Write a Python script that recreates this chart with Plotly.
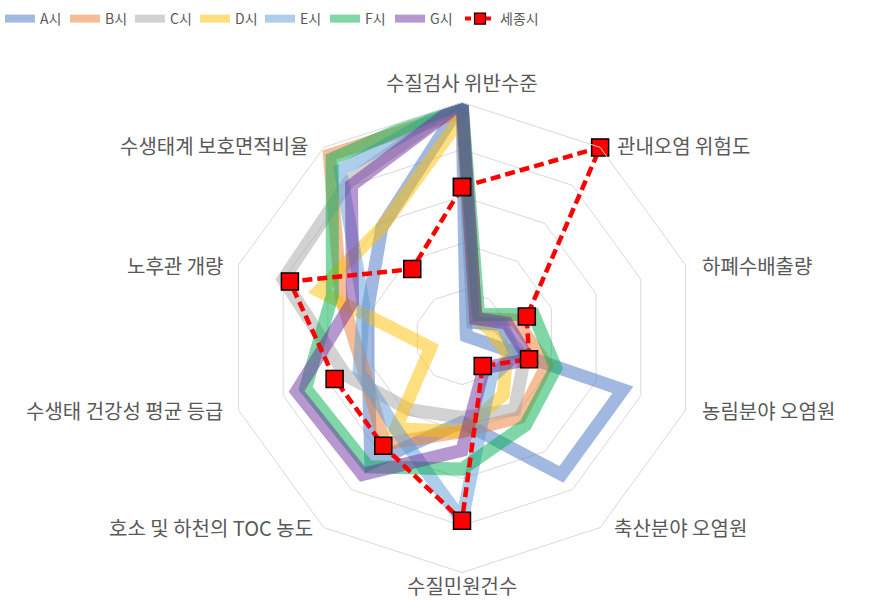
import plotly.graph_objects as go

categories = ["수질검사 위반수준", "관내오염 위험도", "하폐수배출량", "농림분야 오염원",
              "축산분야 오염원", "수질민원건수", "호소 및 하천의 TOC 농도",
              "수생태 건강성 평균 등급", "노후관 개량", "수생태계 보호면적비율"]

series_names = ["A시", "B시", "C시", "D시", "E시", "F시", "G시"]
a_vals = [5.0, 0.15, 0.1, 3.6, 3.6, 1.8, 3.3, 2.1, 2.1, 2.9]
b_vals = [4.8, 0.5, 1.2, 1.9, 2.1, 2.0, 2.8, 2.2, 2.7, 4.8]
c_vals = [5.0, 0.4, 0.8, 1.4, 1.9, 1.7, 1.9, 2.6, 4.0, 4.1]
d_vals = [4.7, 0.5, 0.6, 1.0, 1.5, 2.0, 2.4, 0.7, 3.2, 2.9]
e_vals = [5.0, 0.4, 0.9, 1.2, 1.05, 3.9, 2.4, 2.3, 2.2, 4.4]
f_vals = [5.0, 0.6, 1.6, 2.1, 2.3, 2.8, 3.4, 3.5, 2.9, 4.7]
g_vals = [5.0, 0.5, 1.0, 1.5, 0.8, 2.4, 3.6, 3.7, 2.45, 4.0]
sejong_name = "세종시"
sejong_vals = [3.2, 5.0, 1.45, 1.5, 0.75, 3.9, 2.85, 2.85, 3.85, 1.8]

colors = ["rgba(68,114,196,0.5)", "rgba(237,125,49,0.5)", "rgba(165,165,165,0.5)",
          "rgba(255,192,0,0.5)", "rgba(91,155,213,0.5)", "rgba(0,176,80,0.5)",
          "rgba(112,48,160,0.5)"]

all_vals = [a_vals, b_vals, c_vals, d_vals, e_vals, f_vals, g_vals]

fig = go.Figure()
FONT = "Noto Sans CJK KR"

for name, vals, col in zip(series_names, all_vals, colors):
    fig.add_trace(go.Scatterpolar(
        r=vals + vals[:1], theta=categories + categories[:1],
        mode="lines", name=name, showlegend=False, legendgroup=name,
        line=dict(color=col, width=13),
    ))

fig.add_trace(go.Scatterpolar(
    r=sejong_vals + sejong_vals[:1], theta=categories + categories[:1],
    mode="lines+markers", name=sejong_name, showlegend=False, legendgroup=sejong_name,
    line=dict(color="#FF0000", width=4.5, dash="10px,5px"),
    marker=dict(symbol="square", size=17, color="#FF0000",
                line=dict(color="#000000", width=1.5)),
))

# legend entries
for name, col in zip(series_names, colors):
    fig.add_trace(go.Scatterpolar(
        r=[None], theta=[categories[0]], mode="lines", name=name, legendgroup=name,
        line=dict(color=col, width=8), legend="legend",
    ))
fig.add_trace(go.Scatterpolar(
    r=[None], theta=[categories[0]], mode="lines+markers", name=sejong_name,
    legendgroup=sejong_name, legend="legend2",
    line=dict(color="#FF0000", width=4, dash="6px,4px"),
    marker=dict(symbol="square", size=11, color="#FF0000",
                line=dict(color="#000000", width=1.2)),
))

cx, cy, R = 462, 337.5, 235
W, H = 889, 600

# category label placement (pixels from top-left) and anchors
label_pos = [(462, 82, "center"), (615, 145, "left"), (700, 265, "left"),
             (700, 410, "left"), (612, 527, "left"), (462, 585, "center"),
             (315, 527, "right"), (225, 410, "right"), (225, 265, "right"),
             (310, 145, "right")]
annotations = []
for cat, (px, py, anc) in zip(categories, label_pos):
    annotations.append(dict(
        text=cat, x=px / W, y=1 - py / H, xref="paper", yref="paper",
        xanchor=anc, yanchor="middle", showarrow=False,
        font=dict(size=20, color="#595959", family=FONT)))

legend_font = dict(size=14, color="#595959", family=FONT)
fig.update_layout(
    width=W, height=H,
    margin=dict(l=0, r=0, t=0, b=0),
    paper_bgcolor="white", plot_bgcolor="white",
    font=dict(family=FONT, color="#595959"),
    polar=dict(
        domain=dict(x=[(cx - R) / W, (cx + R) / W],
                    y=[(H - cy - R) / H, (H - cy + R) / H]),
        bgcolor="white",
        gridshape="linear",
        radialaxis=dict(range=[0, 5], dtick=1, showticklabels=False, ticks="",
                        showline=False, gridcolor="#D9D9D9", gridwidth=1),
        angularaxis=dict(rotation=90, direction="clockwise", showgrid=False,
                         showline=True, linecolor="#D9D9D9", linewidth=1,
                         ticks="", showticklabels=False),
    ),
    annotations=annotations,
    legend=dict(orientation="h", x=0, y=0.995, xanchor="left", yanchor="top",
                font=legend_font, entrywidth=20, entrywidthmode="pixels",
                bgcolor="rgba(0,0,0,0)"),
    legend2=dict(orientation="h", x=460 / W, y=0.995, xanchor="left", yanchor="top",
                 font=legend_font, bgcolor="rgba(0,0,0,0)"),
)

fig.write_html("out.html")
